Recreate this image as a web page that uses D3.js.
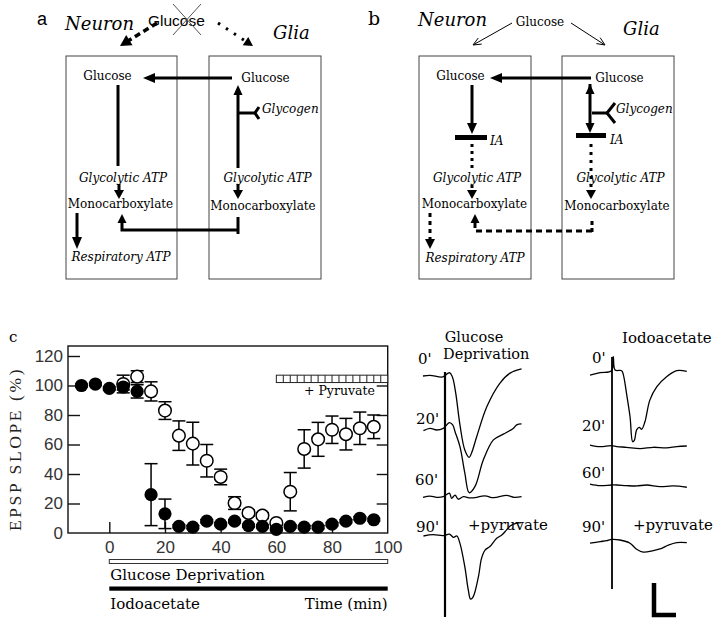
<!DOCTYPE html>
<html><head><meta charset="utf-8">
<script src="https://cdn.jsdelivr.net/npm/d3@7"></script>
<style>body{margin:0;background:#fff}</style>
</head><body>
<script>
// ================= DATA =================
// Panel c: EPSP slope (%) vs time (min)
const iodoTimes  = [-10,-5,0,5,10,15,20,25,30,35,40,45,50,55,60,65,70,75,80,85,90,95];
const iodoValues = [100,101,98,99,96,26,13,4.5,4,8,6,8,5,4.5,2.5,4.5,4,4,6,8,10,9];
const iodoErr    = [1,1,1,2,4.5,21,10,1,1,1,1,1,1,1,1,1,1,1,1,1,1,1];
const glucTimes  = [5,10,15,20,25,30,35,40,45,50,55,60,65,70,75,80,85,90,95];
const glucValues = [101,106,96,83,66,60.6,49,38,20.3,13.6,11.8,6.8,28,57,63.5,70,67,71,72];
const glucErr    = [6,4,6.5,6,10,14.5,11,5.3,4.3,2,2,1,13,13,11.5,9.3,10.7,11,8];
const yTickValues = [0,20,40,60,80,100,120];
const xTickValues = [0,20,40,60,80,100];
const pyruvateWindow = [60,100];
const pyruvateCells = 16;
const treatmentWindow = [0,100];

// Field EPSP traces: [time (ms), amplitude (mV)]
const traceGD0  = [[0,0],[1.6,0.02],[4.5,-0.03],[5.7,0.09],[6.1,0.1],[6.6,0],[6.9,-0.13],[7.5,-0.59],[8.4,-1.53],[9.5,-2.31],[10.5,-2.54],[11.1,-2.38],[12.2,-1.9],[14.5,-0.96],[17.5,-0.22],[19.8,0.09],[22.4,0.22]];
const traceGD20 = [[0.1,-0.02],[1.6,0.05],[3.1,0],[4.6,0.05],[6.0,0.23],[6.75,0.16],[7.3,-0.06],[8.4,-0.52],[9.5,-1.34],[10.5,-1.96],[11.8,-1.77],[13.7,-0.94],[16.0,-0.31],[18.25,-0.13],[20.5,0.05],[21.3,0.16],[22.4,0.19]];
const traceGD60 = [[0,-0.01],[1.6,0.03],[3.1,-0.01],[4.6,0.01],[6.0,0.12],[6.5,-0.04],[7.3,0.06],[8.0,-0.07],[9.2,0.01],[10.7,-0.03],[12.2,-0.01],[13.4,0.03],[14.5,0.03],[15.6,-0.02],[16.75,-0.01],[19.0,0.05],[20.7,-0.01],[22.4,0.01]];
const traceGD90 = [[0.1,0],[2.3,0.04],[4.6,0.01],[6.0,0.06],[6.9,-0.04],[7.7,0],[8.4,-0.23],[9.5,-0.96],[10.3,-1.69],[10.8,-1.97],[11.4,-1.9],[12.6,-1.27],[13.3,-0.7],[14.1,-0.44],[15.2,-0.33],[16.75,-0.07],[17.9,0.03],[19.0,0.19],[19.8,0.31],[21.3,0.4],[22.4,0.42]];
const traceIA0  = [[0,-0.13],[2.3,-0.05],[4.9,0.01],[5.3,0.45],[5.7,0.03],[7.2,0.01],[7.6,-0.13],[8.3,-0.7],[9.1,-1.43],[9.7,-2.21],[10.1,-2.16],[10.6,-1.84],[11.2,-1.76],[11.75,-1.82],[12.5,-1.58],[13.6,-0.91],[15.2,-0.49],[17.4,-0.18],[19.7,0.01],[22.0,-0.01]];
const traceIA20 = [[0,0.03],[2.3,-0.02],[4.9,0.01],[6.1,-0.02],[8.3,-0.04],[11.4,-0.08],[14.4,-0.04],[17.4,-0.06],[19.7,-0.02],[22.0,0]];
const traceIA60 = [[0,0.03],[2.3,-0.02],[4.9,0],[6.1,0],[8.3,-0.02],[10.6,-0.03],[12.9,0],[15.9,-0.05],[18.9,-0.03],[22.0,-0.07]];
const traceIA90 = [[0,-0.1],[2.3,-0.05],[3.8,-0.02],[4.9,0.02],[6.8,0],[9.1,-0.1],[10.6,-0.29],[12.1,-0.38],[14.4,-0.33],[16.3,-0.26],[17.8,-0.16],[19.7,-0.08],[22.0,-0.08]];
const stimulusTime = 5;
const scaleBar = {ms: 5, mV: 1};

// ================= DRAW =================
const W = 720, H = 622;
const svg = d3.select('body').append('svg').attr('width', W).attr('height', H)
  .style('font-family', '"DejaVu Serif", serif');

const SERIF = '"DejaVu Serif", serif';
const SANS = '"Liberation Sans", Arial, sans-serif';

function txt(g, x, y, s, o = {}) {
  return g.append('text').attr('x', x).attr('y', y).text(s)
    .attr('font-family', o.family || SERIF)
    .attr('font-size', o.size || 12)
    .attr('font-style', o.italic ? 'italic' : null)
    .attr('text-anchor', o.anchor || 'start')
    .attr('fill', o.fill || '#000')
    .attr('letter-spacing', o.ls || null);
}
function pline(g, pts, w, dash, color) {
  return g.append('path').attr('d', d3.line()(pts)).attr('fill', 'none')
    .attr('stroke', color || '#000').attr('stroke-width', w)
    .attr('stroke-dasharray', dash || null);
}
function head(g, from, to, L, Wd, open) {
  const dx = to[0] - from[0], dy = to[1] - from[1];
  const len = Math.hypot(dx, dy), ux = dx / len, uy = dy / len;
  const bx = to[0] - ux * L, by = to[1] - uy * L;
  const p1 = [bx - uy * Wd, by + ux * Wd], p2 = [bx + uy * Wd, by - ux * Wd];
  if (open) pline(g, [p1, to, p2], open);
  else g.append('path').attr('d', d3.line()([p1, to, p2]) + 'Z').attr('fill', '#000');
}
function arrow(g, pts, w, o = {}) {
  const L = o.L || 10, Wd = o.W || 5;
  const a = pts[pts.length - 2], b = pts[pts.length - 1];
  const dx = b[0] - a[0], dy = b[1] - a[1], len = Math.hypot(dx, dy);
  const sp = pts.slice(0, -1).concat([[b[0] - dx / len * L * (o.open ? 0.1 : 0.7), b[1] - dy / len * L * (o.open ? 0.1 : 0.7)]]);
  pline(g, sp, w, o.dash);
  head(g, a, b, L, Wd, o.open);
  if (o.both) {
    const c = pts[0], d = pts[1];
    head(g, d, c, L, Wd);
  }
}

// ---------- Panel a ----------
const A = svg.append('g');
txt(A, 37, 25, 'a', {family: SANS, size: 18});
txt(A, 65, 30, 'Neuron', {size: 18, italic: true});
txt(A, 148, 26, 'Glucose', {family: SANS, size: 15.5});
pline(A, [[173, 4], [201, 35]], 1, null, '#555');
pline(A, [[201, 4], [173, 35]], 1, null, '#555');
txt(A, 273, 39, 'Glia', {size: 18, italic: true});
arrow(A, [[157, 23], [120, 46]], 3.5, {dash: '6,4', L: 11, W: 6});
arrow(A, [[218, 23], [253, 46]], 3, {dash: '2.5,7', L: 9, W: 5});
A.append('rect').attr('x', 66).attr('y', 56).attr('width', 111).attr('height', 223).attr('fill', 'none').attr('stroke', '#444').attr('stroke-width', 1);
A.append('rect').attr('x', 209).attr('y', 56).attr('width', 112).attr('height', 223).attr('fill', 'none').attr('stroke', '#444').attr('stroke-width', 1);
txt(A, 107.5, 80, 'Glucose', {anchor: 'middle'});
txt(A, 265.5, 82, 'Glucose', {anchor: 'middle'});
arrow(A, [[232, 78], [143, 78]], 3, {L: 12, W: 5});
pline(A, [[118, 85], [118, 166]], 3);
txt(A, 123, 182, 'Glycolytic ATP', {anchor: 'middle', italic: true});
arrow(A, [[119, 184], [119, 199]], 3, {L: 9, W: 5});
txt(A, 120.5, 208, 'Monocarboxylate', {anchor: 'middle'});
arrow(A, [[77, 213], [77, 249]], 3, {L: 12, W: 5});
txt(A, 121, 261, 'Respiratory ATP', {anchor: 'middle', italic: true});
arrow(A, [[238, 168], [238, 85]], 3, {L: 10, W: 4.5});
pline(A, [[238, 113], [255, 113]], 3);
pline(A, [[259, 107], [255, 113], [259, 119]], 3);
txt(A, 262, 113, 'Glycogen', {italic: true});
txt(A, 267.5, 182, 'Glycolytic ATP', {anchor: 'middle', italic: true});
arrow(A, [[238, 184], [238, 199]], 3, {L: 9, W: 5});
txt(A, 263, 210, 'Monocarboxylate', {anchor: 'middle'});
pline(A, [[238, 217], [238, 234]], 3);
arrow(A, [[238, 230], [122, 230], [122, 214]], 3, {L: 9, W: 4.5});

// ---------- Panel b ----------
const B = svg.append('g');
txt(B, 368, 25, 'b', {size: 19});
txt(B, 418, 26, 'Neuron', {size: 18, italic: true});
txt(B, 540, 26, 'Glucose', {anchor: 'middle', size: 12});
txt(B, 623, 35, 'Glia', {size: 18, italic: true});
arrow(B, [[512, 23], [473, 45]], 1, {L: 8, W: 3.5, open: 1});
arrow(B, [[571, 23], [605, 45]], 1, {L: 8, W: 3.5, open: 1});
B.append('rect').attr('x', 419).attr('y', 56).attr('width', 112).attr('height', 223).attr('fill', 'none').attr('stroke', '#444').attr('stroke-width', 1);
B.append('rect').attr('x', 562).attr('y', 56).attr('width', 112).attr('height', 223).attr('fill', 'none').attr('stroke', '#444').attr('stroke-width', 1);
txt(B, 460.5, 80, 'Glucose', {anchor: 'middle'});
txt(B, 619.5, 82, 'Glucose', {anchor: 'middle'});
arrow(B, [[591, 78], [490, 78]], 3, {L: 12, W: 5});
arrow(B, [[472, 85], [472, 134]], 3, {L: 11, W: 5});
pline(B, [[455, 137.5], [487, 137.5]], 5);
txt(B, 490, 145, 'IA', {italic: true});
pline(B, [[472, 144], [472, 168]], 3, '3,4');
txt(B, 477, 182, 'Glycolytic ATP', {anchor: 'middle', italic: true});
arrow(B, [[472, 185], [472, 199]], 3, {L: 9, W: 5, dash: '3,3'});
txt(B, 474.5, 208, 'Monocarboxylate', {anchor: 'middle'});
arrow(B, [[430, 213], [430, 249]], 3, {L: 10, W: 5, dash: '4,4'});
txt(B, 475, 262, 'Respiratory ATP', {anchor: 'middle', italic: true});
arrow(B, [[590, 84], [590, 133]], 3, {L: 10, W: 4.5, both: true});
pline(B, [[576, 135.5], [606, 135.5]], 5);
txt(B, 610, 144, 'IA', {italic: true});
pline(B, [[592, 113], [607, 113]], 3);
pline(B, [[615, 103], [607, 113], [615, 123]], 3);
txt(B, 616, 113, 'Glycogen', {italic: true});
arrow(B, [[591, 144], [591, 199]], 3, {L: 9, W: 5, dash: '3,5'});
txt(B, 620.5, 182, 'Glycolytic ATP', {anchor: 'middle', italic: true});
txt(B, 617, 210, 'Monocarboxylate', {anchor: 'middle'});
pline(B, [[592, 221], [592, 233]], 3, '4,3');
arrow(B, [[592, 231], [475, 231], [475, 214]], 3, {L: 9, W: 4.5, dash: '6,4'});

// ---------- Panel c : graph ----------
const C = svg.append('g');
const x = d3.scaleLinear().domain([0, 100]).range([109.3, 387.7]);
const y = d3.scaleLinear().domain([0, 120]).range([533, 356]);
const xMin = x.invert(68), yMax = y.invert(346);
txt(C, 9, 342, 'c', {size: 15});

C.append('rect').attr('x', x(xMin)).attr('y', y(yMax))
  .attr('width', x(100) - x(xMin)).attr('height', y(0) - y(yMax))
  .attr('fill', 'none').attr('stroke', '#111').attr('stroke-width', 1.4);

const axL = C.append('g').attr('transform', `translate(${x(xMin)},0)`)
  .call(d3.axisLeft(y).tickValues(yTickValues).tickSizeInner(-12).tickSizeOuter(0).tickPadding(5));
const axR = C.append('g').attr('transform', `translate(${x(100)},0)`)
  .call(d3.axisRight(y).tickValues(yTickValues.filter(v => v > 0 && v < 120)).tickSizeInner(-11).tickSizeOuter(0).tickFormat(''));
const axB = C.append('g').attr('transform', `translate(0,${y(0)})`)
  .call(d3.axisBottom(x).tickValues(xTickValues).tickSizeInner(-11).tickSizeOuter(0).tickPadding(8));
[axL, axR, axB].forEach(a => {
  a.select('.domain').remove();
  a.selectAll('line').attr('stroke', '#111').attr('stroke-width', 1.4);
  a.selectAll('text').attr('font-family', SANS).attr('font-size', 17).attr('fill', '#333');
});
axB.selectAll('.tick').filter(d => d === 100).select('line').remove();
axL.selectAll('.tick').filter(d => d === 0).select('line').remove();

txt(C, 0, 0, 'EPSP SLOPE (%)', {family: '"Liberation Serif", serif', size: 17.5, anchor: 'middle', ls: 2.6, fill: '#222'})
  .attr('transform', 'translate(21,449) rotate(-90)');

// pyruvate hatched bar
const py0 = y(107), py1 = y(102);
C.append('rect').attr('x', x(pyruvateWindow[0])).attr('y', py0)
  .attr('width', x(pyruvateWindow[1]) - x(pyruvateWindow[0])).attr('height', py1 - py0)
  .attr('fill', '#fff').attr('stroke', '#222').attr('stroke-width', 1);
const cellW = (pyruvateWindow[1] - pyruvateWindow[0]) / pyruvateCells;
C.selectAll('.cell').data(d3.range(1, pyruvateCells)).enter().append('line')
  .attr('x1', i => x(pyruvateWindow[0] + i * cellW)).attr('x2', i => x(pyruvateWindow[0] + i * cellW))
  .attr('y1', py0).attr('y2', py1).attr('stroke', '#222').attr('stroke-width', 1);
txt(C, 304, 395, '+ Pyruvate', {size: 12.5});

// open circles (glucose deprivation)
const gd = glucTimes.map((t, i) => ({t, v: glucValues[i], e: glucErr[i]}));
const ia = iodoTimes.map((t, i) => ({t, v: iodoValues[i], e: iodoErr[i]}));
function errBars(data) {
  const g = C.append('g').attr('stroke', '#000').attr('stroke-width', 1.5);
  data.forEach(d => {
    g.append('line').attr('x1', x(d.t)).attr('x2', x(d.t)).attr('y1', y(d.v - d.e)).attr('y2', y(d.v + d.e));
    [d.v - d.e, d.v + d.e].forEach(v => g.append('line').attr('x1', x(d.t) - 6.5).attr('x2', x(d.t) + 6.5).attr('y1', y(v)).attr('y2', y(v)));
  });
}
errBars(gd);
C.selectAll('.gd').data(gd).enter().append('circle')
  .attr('cx', d => x(d.t)).attr('cy', d => y(d.v)).attr('r', 6.3)
  .attr('fill', '#fff').attr('stroke', '#000').attr('stroke-width', 1.5);
errBars(ia);
C.selectAll('.ia').data(ia).enter().append('circle')
  .attr('cx', d => x(d.t)).attr('cy', d => y(d.v)).attr('r', 6.6)
  .attr('fill', '#000');

// treatment bars
C.append('rect').attr('x', x(treatmentWindow[0])).attr('y', 559.5)
  .attr('width', x(treatmentWindow[1]) - x(treatmentWindow[0])).attr('height', 4)
  .attr('fill', '#fff').attr('stroke', '#333').attr('stroke-width', 1);
txt(C, x(0) + 1, 580, 'Glucose Deprivation', {size: 15});
C.append('rect').attr('x', x(treatmentWindow[0])).attr('y', 586.5)
  .attr('width', x(treatmentWindow[1]) - x(treatmentWindow[0])).attr('height', 4.2).attr('fill', '#000');
txt(C, x(0) + 1, 609, 'Iodoacetate', {size: 15});
txt(C, x(100), 609, 'Time (min)', {size: 15, anchor: 'end'});

// ---------- Traces ----------
const T = svg.append('g');
const pxPerMs = 4.4, pxPerMV = 32;
const txGD = d3.scaleLinear().domain([0, 1]).range([423, 423 + pxPerMs]);
const txIA = d3.scaleLinear().domain([0, 1]).range([590, 590 + pxPerMs]);
function drawTrace(tx, data, base) {
  const ty = d3.scaleLinear().domain([0, 1]).range([base, base - pxPerMV]);
  T.append('path').datum(data)
    .attr('d', d3.line().x(d => tx(d[0])).y(d => ty(d[1])).curve(d3.curveCatmullRom.alpha(0.5)))
    .attr('fill', 'none').attr('stroke', '#000').attr('stroke-width', 1.3);
}
drawTrace(txGD, traceGD0, 376);
drawTrace(txGD, traceGD20, 430);
drawTrace(txGD, traceGD60, 497);
drawTrace(txGD, traceGD90, 536);
drawTrace(txIA, traceIA0, 371);
drawTrace(txIA, traceIA20, 446);
drawTrace(txIA, traceIA60, 485);
drawTrace(txIA, traceIA90, 540);
T.append('line').attr('x1', txGD(stimulusTime)).attr('x2', txGD(stimulusTime)).attr('y1', 372).attr('y2', 617).attr('stroke', '#000').attr('stroke-width', 2.2);
T.append('line').attr('x1', txIA(stimulusTime)).attr('x2', txIA(stimulusTime)).attr('y1', 357).attr('y2', 589).attr('stroke', '#000').attr('stroke-width', 1.8);
// scale bar
const sbx = 654, sby = 615;
pline(T, [[sbx, sby - scaleBar.mV * pxPerMV], [sbx, sby], [sbx + scaleBar.ms * pxPerMs, sby]], 4.5)
  .attr('stroke-linejoin', 'miter');

txt(T, 474, 342, 'Glucose', {size: 14.5, anchor: 'middle'});
txt(T, 443, 359, 'Deprivation', {size: 14.5});
txt(T, 418, 364, "0'", {size: 15});
txt(T, 416, 424, "20'", {size: 15});
txt(T, 415, 485, "60'", {size: 15});
txt(T, 416, 532, "90'", {size: 15});
txt(T, 468, 530, '+pyruvate', {size: 15});
txt(T, 622, 343, 'Iodoacetate', {size: 15});
txt(T, 592, 363, "0'", {size: 15});
txt(T, 582, 431, "20'", {size: 15});
txt(T, 582, 478, "60'", {size: 15});
txt(T, 582, 532, "90'", {size: 15});
txt(T, 633, 530, '+pyruvate', {size: 15});
</script>
</body></html>
